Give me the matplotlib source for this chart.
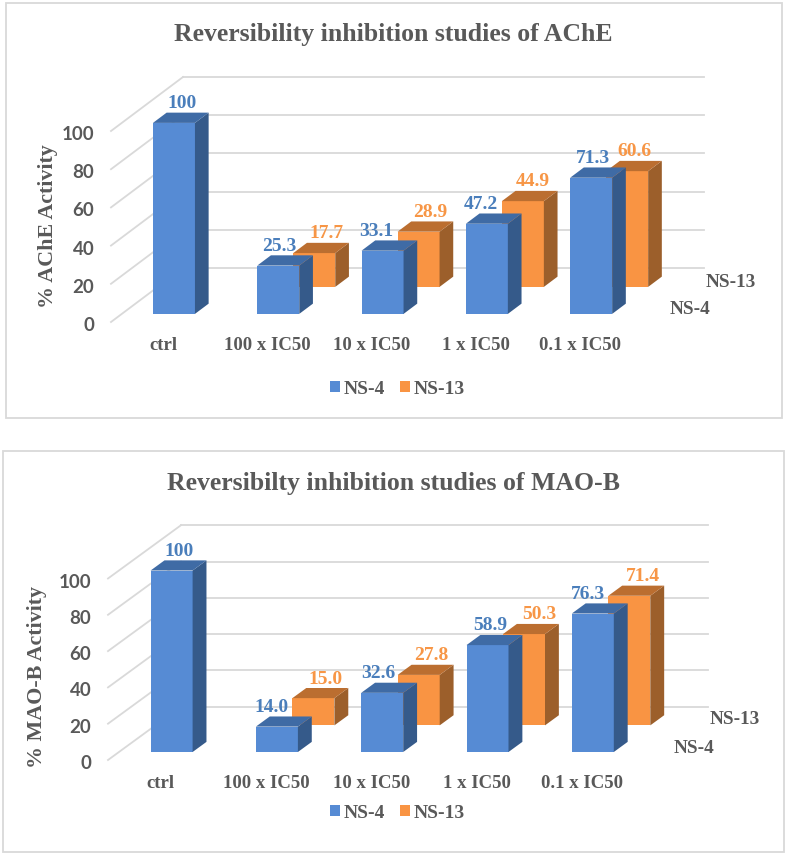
import numpy as np
import matplotlib
matplotlib.use("Agg")
import matplotlib.pyplot as plt
from matplotlib.patches import Polygon, Rectangle
from matplotlib.transforms import ScaledTranslation

# data
categories = ['ctrl', '100 x IC50', '10 x IC50', '1 x IC50', '0.1 x IC50']
ache_ns4 = [100, 25.3, 33.1, 47.2, 71.3]
ache_ns13 = [None, 17.7, 28.9, 44.9, 60.6]
maob_ns4 = [100, 14.0, 32.6, 58.9, 76.3]
maob_ns13 = [None, 15.0, 27.8, 50.3, 71.4]
y_ticks = [0, 20, 40, 60, 80, 100]

W, H = 787, 855
SERIF = 'Liberation Serif'
GREY = '#595959'
GRID = '#D9D9D9'
BLUE = ('#568BD4', '#355A8A', '#3F6BA5')    # front, side, top
ORANGE = ('#F99443', '#9C5F2B', '#BB6E30')
BLUE_TXT = '#4A7EBB'
ORANGE_TXT = '#F79646'

# depth of the bars along the oblique axis (0 front wall, 1 back wall)
D_NS4 = 0.15
D_NS13 = 0.65
D_BAR = 0.19
BAR_PX = 42

fig = plt.figure(figsize=(W / 100, H / 100), dpi=100)


def px_box(x0, y0, x1, y1):
    # pixel box (y down) to figure fractions
    return [x0 / W, 1 - y1 / H, (x1 - x0) / W, (y1 - y0) / H]


def draw_series(ax, values, d, colors, txt, nudges, dx, dv, width):
    for i, v in enumerate(values):
        if v is None:
            continue
        x0 = i + dx * d - width / 2
        x1 = x0 + width
        y0 = dv * d
        y1 = y0 + v
        ox, oy = dx * D_BAR, dv * D_BAR
        z = 4 if d < 0.5 else 3
        ax.bar(x0 + width / 2, v, width, bottom=y0, color=colors[0], zorder=z, clip_on=False)
        ax.add_patch(Polygon([(x1, y0), (x1 + ox, y0 + oy), (x1 + ox, y1 + oy), (x1, y1)],
                             fc=colors[1], ec='none', zorder=z, clip_on=False))
        ax.add_patch(Polygon([(x0, y1), (x1, y1), (x1 + ox, y1 + oy), (x0 + ox, y1 + oy)],
                             fc=colors[2], ec='none', zorder=z, clip_on=False))
        label = '100' if v == 100 else '%.1f' % v
        ax.annotate(label, (x0 + width / 2, y1 + oy), xytext=(nudges[i] * 0.72, 9 * 0.72),
                    textcoords='offset points', ha='center', va='center', color=txt,
                    family=SERIF, weight='bold', fontsize=14, zorder=6, annotation_clip=False)


def draw_panel(frame, box, back_px, title, title_y, ylabel, ylabel_pos, ns4, ns13,
               nudge4, nudge13, legend_y, d_labels):
    x0, y_top, x1, y_zero = box
    fig.add_artist(Rectangle((frame[0] / W, 1 - frame[3] / H), (frame[2] - frame[0]) / W,
                             (frame[3] - frame[1]) / H, transform=fig.transFigure,
                             fc='white', ec=GRID, lw=1.3, zorder=-1))
    ax = fig.add_axes(px_box(x0, y_top, x1, y_zero))
    ax.patch.set_alpha(0)
    for s in ax.spines.values():
        s.set_visible(False)

    cat_px = (x1 - x0) / 5
    val_px = (y_zero - y_top) / 100
    dx = back_px[0] / cat_px
    dv = back_px[1] / val_px
    width = BAR_PX / cat_px

    # walls: diagonals on the left, horizontals on the back
    for t in y_ticks:
        ax.plot([-0.5, -0.5 + dx], [t, t + dv], color=GRID, lw=1.3, zorder=1, clip_on=False)
        ax.plot([-0.5 + dx, 4.5 + dx], [t + dv, t + dv], color=GRID, lw=1.3, zorder=1, clip_on=False)

    draw_series(ax, ns13, D_NS13, ORANGE, ORANGE_TXT, nudge13, dx, dv, width)
    draw_series(ax, ns4, D_NS4, BLUE, BLUE_TXT, nudge4, dx, dv, width)

    ax.set_xlim(-0.5, 4.5)
    ax.set_ylim(0, 100)
    ax.set_yticks(y_ticks)
    ax.set_xticks(range(len(categories)))
    ax.set_xticklabels(categories, family=SERIF, weight='bold', fontsize=13.5, color=GREY)
    ax.tick_params(axis='y', length=0, pad=12, labelsize=13.5, labelcolor=GREY)
    ax.tick_params(axis='x', length=0, pad=11)
    shift = ScaledTranslation(0, -2 / 100, fig.dpi_scale_trans)
    for lab in ax.get_yticklabels():
        lab.set_family('Lato')
        lab.set_weight('bold')
        lab.set_transform(lab.get_transform() + shift)

    fig.text(393.5 / W, 1 - title_y / H, title, ha='center', va='center', family=SERIF,
             weight='bold', fontsize=18.5, color=GREY)
    fig.text(ylabel_pos[0] / W, 1 - ylabel_pos[1] / H, ylabel, rotation=90, ha='center',
             va='center', family=SERIF, weight='bold', fontsize=15.8, color=GREY)
    for text, px, py in d_labels:
        fig.text(px / W, 1 - py / H, text, ha='left', va='center', family=SERIF,
                 weight='bold', fontsize=13.8, color=GREY)

    handles = [Rectangle((0, 0), 1, 1, fc=BLUE[0]), Rectangle((0, 0), 1, 1, fc=ORANGE[0])]
    fig.legend(handles, ['NS-4', 'NS-13'], loc='center', ncol=2,
               bbox_to_anchor=(397.5 / W, 1 - legend_y / H), frameon=False, handlelength=0.52,
               handleheight=0.52, handletextpad=0.2, columnspacing=0.77,
               labelcolor=GREY, prop={'family': SERIF, 'weight': 'bold', 'size': 14})


draw_panel((6, 3, 782, 418), (111, 131, 632.5, 322), (72, 54),
           'Reversibility inhibition studies of AChE', 35,
           '% AChE Activity', (48, 226), ache_ns4, ache_ns13,
           [8, 1, -6, -6, 2], [0, 12, 12, 10, 7], 389,
           [('NS-13', 706, 282), ('NS-4', 670, 309)])

draw_panel((3, 451, 784, 852), (108, 578.5, 634.5, 760), (73, 53.3),
           'Reversibilty inhibition studies of MAO-B', 483,
           '% MAO-B Activity', (37, 677), maob_ns4, maob_ns13,
           [7, -5, -4, 3, -5], [0, 12, 13, 15, 14], 813,
           [('NS-13', 710, 720), ('NS-4', 674, 748)])

fig.savefig('out.png', dpi=100)
